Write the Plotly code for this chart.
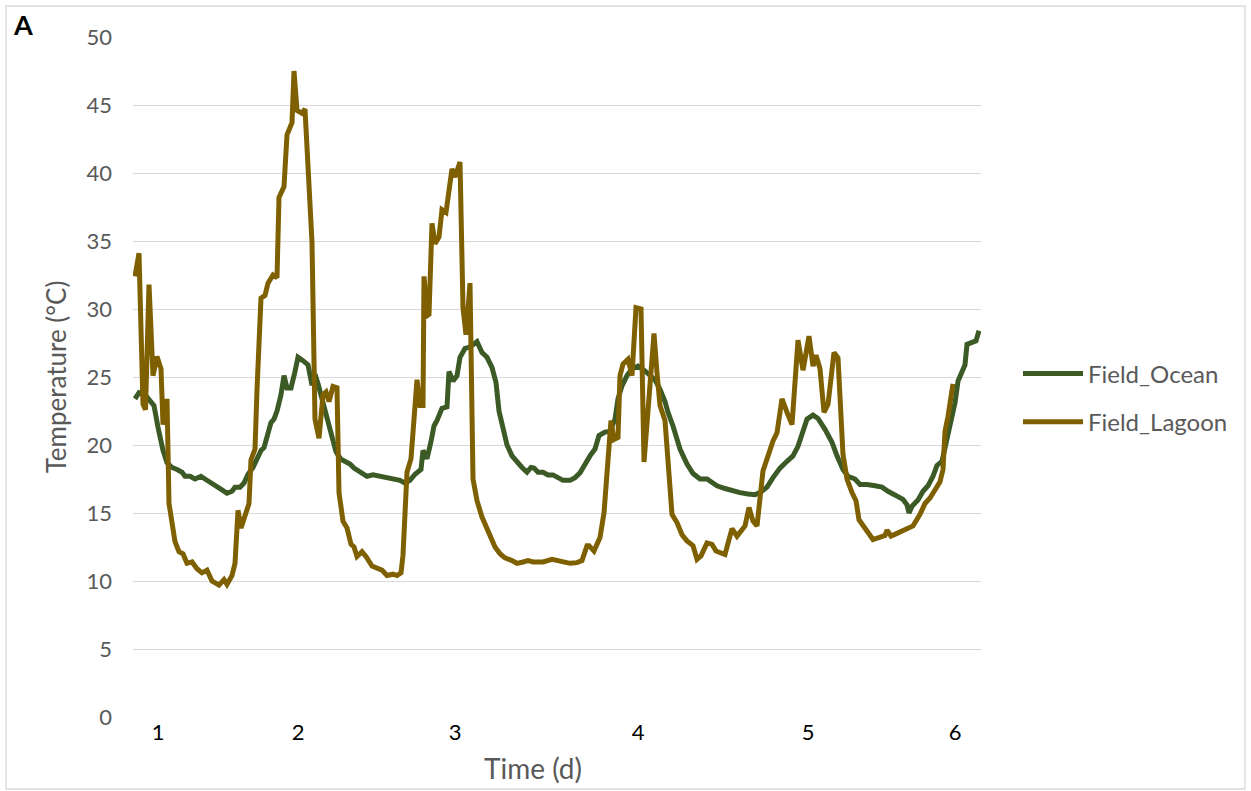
import plotly.graph_objects as go

# ---------------- data ----------------
# sample index along the time axis (one reading per step)
ocean_t = [0, 4, 10, 15, 19, 23, 28, 32, 37, 42, 47, 50, 55, 60, 66, 70, 77, 82, 87, 92,
           97, 100, 105, 109, 113, 118, 122, 126, 129, 132, 136, 139, 142, 146, 149, 152, 156, 160, 163, 168,
           173, 177, 180, 183, 187, 191, 196, 201, 206, 211, 215, 219, 225, 232, 238, 245, 252, 258, 265, 270,
           275, 280, 286, 288, 292, 296, 299, 302, 307, 312, 314, 318, 322, 325, 330, 335, 339, 342, 347, 352,
           357, 361, 364, 368, 372, 377, 382, 387, 392, 396, 399, 403, 408, 413, 418, 422, 428, 435, 440, 445,
           450, 455, 460, 464, 470, 475, 480, 483, 487, 492, 497, 503, 509, 515, 520, 525, 530, 533, 538, 545,
           552, 558, 565, 572, 577, 582, 590, 598, 605, 613, 620, 625, 632, 638, 645, 652, 658, 663, 668, 672,
           678, 683, 690, 697, 702, 708, 713, 720, 725, 732, 740, 747, 753, 760, 768, 772, 774, 777, 783, 788,
           793, 798, 802, 807, 812, 817, 820, 823, 827, 830, 832, 838, 841, 844]
ocean_temp = [23.4, 23.85, 23.7, 23.2, 22.9, 21.3, 19.6, 18.7, 18.35, 18.2, 18.0, 17.7, 17.7, 17.5, 17.7, 17.5, 17.2, 17.0, 16.7, 16.45,
              16.6, 16.9, 16.9, 17.2, 17.85, 18.35, 19.0, 19.6, 19.8, 20.75, 21.65, 21.9, 22.5, 23.7, 25.1, 24.2, 24.2, 25.4, 26.45, 26.2,
              25.9, 24.4, 25.2, 24.5, 23.4, 22.2, 20.8, 19.5, 18.95, 18.8, 18.6, 18.3, 18.0, 17.7, 17.8, 17.7, 17.6, 17.5, 17.4, 17.2,
              17.4, 17.85, 18.2, 19.6, 19.0, 20.25, 21.4, 21.8, 22.7, 22.8, 25.4, 24.7, 25.1, 26.45, 27.1, 27.2, 27.5, 27.6, 26.8, 26.45,
              25.7, 24.6, 22.5, 21.1, 20.0, 19.2, 18.7, 18.35, 18.0, 18.35, 18.3, 18.0, 18.0, 17.8, 17.8, 17.6, 17.4, 17.4, 17.6, 17.95,
              18.6, 19.2, 19.7, 20.7, 20.95, 21.0, 21.9, 23.4, 24.35, 25.1, 25.6, 25.8, 25.5, 25.1, 24.8, 24.1, 23.2, 22.4, 21.4, 19.7,
              18.6, 17.9, 17.5, 17.5, 17.2, 17.0, 16.8, 16.6, 16.5, 16.4, 16.35, 16.5, 16.9, 17.6, 18.3, 18.8, 19.2, 19.9, 21.0, 21.9,
              22.2, 21.95, 21.15, 20.2, 19.2, 18.2, 17.7, 17.5, 17.1, 17.1, 17.0, 16.9, 16.6, 16.3, 16.0, 15.6, 15.0, 15.5, 15.95, 16.6,
              17.0, 17.7, 18.5, 18.8, 20.4, 21.8, 23.1, 24.7, 25.4, 25.9, 27.4, 27.6, 27.65, 28.4]

lagoon_t = [0, 4, 8, 10.5, 14, 18, 22, 26, 28, 32, 34, 40, 44, 48, 52, 57, 62, 67, 72, 77,
            84, 89, 92, 97, 100, 103, 106, 110, 114, 116, 120, 122, 126, 130, 133, 138, 142, 144, 149, 152,
            157, 159, 162, 167, 170, 177, 180, 184, 188, 191, 194, 198, 202, 204, 208, 212, 216, 219, 222, 227,
            231, 237, 242, 247, 252, 258, 262, 266, 268, 270, 272, 276, 278, 282, 285, 288, 289, 292, 294, 297,
            300, 304, 307, 311, 317, 320, 325, 328, 331, 335, 338, 342, 347, 351, 355, 360, 365, 370, 377, 382,
            388, 393, 398, 408, 417, 422, 428, 435, 442, 447, 452, 454, 459, 465, 469, 472, 476, 479, 483, 485,
            488, 493, 497, 501, 506, 509, 513, 519, 522, 525, 530, 537, 542, 547, 552, 558, 562, 566, 572, 577,
            581, 585, 590, 597, 602, 610, 614, 618, 622, 628, 631, 634, 638, 642, 647, 652, 657, 663, 668, 674,
            678, 681, 685, 689, 693, 699, 703, 708, 712, 717, 721, 724, 732, 738, 746, 750, 752, 756, 762, 768,
            778, 785, 790, 795, 800, 805, 808, 810, 813, 818]
lagoon_temp = [32.4, 34.1, 23.0, 22.6, 31.8, 25.1, 26.5, 25.6, 21.5, 23.4, 15.7, 12.9, 12.15, 12.0, 11.3, 11.4, 10.9, 10.6, 10.8, 10.0,
               9.7, 10.1, 9.75, 10.4, 11.3, 15.2, 13.9, 14.7, 15.7, 18.9, 19.7, 24.05, 30.8, 31.0, 31.9, 32.5, 32.3, 38.2, 39.0, 42.8,
               43.7, 47.5, 44.6, 44.4, 44.7, 34.9, 21.9, 20.5, 23.7, 23.9, 23.2, 24.3, 24.2, 16.5, 14.4, 13.9, 12.7, 12.5, 11.8, 12.15,
               11.8, 11.1, 10.9, 10.8, 10.4, 10.5, 10.4, 10.6, 11.9, 14.9, 18.0, 19.0, 21.3, 24.8, 22.9, 22.9, 32.4, 29.5, 29.6, 36.3,
               34.8, 35.3, 37.3, 37.1, 40.3, 39.7, 40.8, 30.1, 28.1, 31.9, 17.5, 15.9, 14.7, 14.05, 13.3, 12.5, 12.0, 11.7, 11.5, 11.3,
               11.4, 11.5, 11.4, 11.4, 11.6, 11.5, 11.35, 11.3, 11.35, 11.5, 12.6, 12.6, 12.2, 13.2, 15.0, 18.0, 21.8, 20.4, 20.55, 25.1,
               25.95, 26.3, 25.1, 30.1, 30.0, 18.75, 22.9, 28.2, 25.3, 22.9, 21.8, 14.9, 14.3, 13.4, 12.95, 12.6, 11.6, 11.85, 12.8, 12.7,
               12.2, 12.1, 11.95, 13.85, 13.3, 14.05, 15.4, 14.4, 14.05, 18.1, 18.8, 19.4, 20.3, 20.9, 23.4, 22.4, 21.5, 27.7, 25.5, 28.0,
               25.8, 26.6, 25.6, 22.4, 23.0, 26.8, 26.4, 19.3, 17.5, 16.5, 15.9, 14.5, 13.7, 13.05, 13.25, 13.35, 13.75, 13.3, 13.5, 13.7,
               14.05, 14.9, 15.7, 16.1, 16.75, 17.3, 18.2, 21.0, 22.1, 24.5]

day_tick_pos = [23, 163, 320, 503, 673, 820]
day_tick_labels = ["1", "2", "3", "4", "5", "6"]
y_ticks = [0, 5, 10, 15, 20, 25, 30, 35, 40, 45, 50]

# ---------------- layout constants (pixels) ----------------
W, H = 1251, 791
L, R, T, B = 133, 981, 37, 717

def px(x):
    return (x - L) / (R - L)

def py(y):
    return (B - y) / (B - T)

FONT = "Lato, 'Open Sans', sans-serif"
GREY = "#595959"

fig = go.Figure()
fig.add_trace(go.Scatter(x=ocean_t, y=ocean_temp, mode="lines", name="Field_Ocean",
                         legendgroup="a",
                         line=dict(color="#3B5A26", width=5, shape="linear")))
fig.add_trace(go.Scatter(x=lagoon_t, y=lagoon_temp, mode="lines", name="Field_Lagoon",
                         legendgroup="b",
                         line=dict(color="#7F6000", width=5, shape="linear")))

fig.update_layout(
    width=W, height=H,
    margin=dict(l=L, r=W - R, t=T, b=H - B, pad=0),
    paper_bgcolor="white", plot_bgcolor="white",
    font=dict(family=FONT, color=GREY, size=21),
    showlegend=True,
    legend=dict(x=px(1018), y=py(398), xanchor="left", yanchor="middle",
                font=dict(size=24, color=GREY, family=FONT),
                tracegroupgap=14, itemwidth=60, bgcolor="rgba(0,0,0,0)"),
    xaxis=dict(range=[-2, 846], tickmode="array", tickvals=day_tick_pos, ticktext=day_tick_labels,
               showgrid=False, zeroline=False, showline=False, ticks="",
               tickfont=dict(size=22, color="black", family=FONT)),
    yaxis=dict(range=[0, 50], tickmode="array", tickvals=y_ticks,
               showgrid=True, gridcolor="#D9D9D9", gridwidth=1.3, zeroline=False, showline=False,
               ticks="", ticklabelstandoff=20,
               tickfont=dict(size=22, color=GREY, family=FONT),
               title=dict(text="Temperature (°C)", font=dict(size=26, color=GREY, family=FONT), standoff=12)),
    annotations=[
        dict(text="Time (d)", xref="paper", yref="paper", x=px(533), y=py(768),
             xanchor="center", yanchor="middle", showarrow=False,
             font=dict(size=28, color=GREY, family=FONT)),
        dict(text="<b>A</b>", xref="paper", yref="paper", x=px(11), y=py(24),
             xanchor="left", yanchor="middle", showarrow=False,
             font=dict(size=27, color="black", family=FONT)),
    ],
    shapes=[
        dict(type="rect", xref="paper", yref="paper", x0=px(6), x1=px(1245), y0=py(789), y1=py(6),
             line=dict(color="#D9D9D9", width=1.3), fillcolor="rgba(0,0,0,0)", layer="below"),
    ],
)

fig.write_html("out.html")
